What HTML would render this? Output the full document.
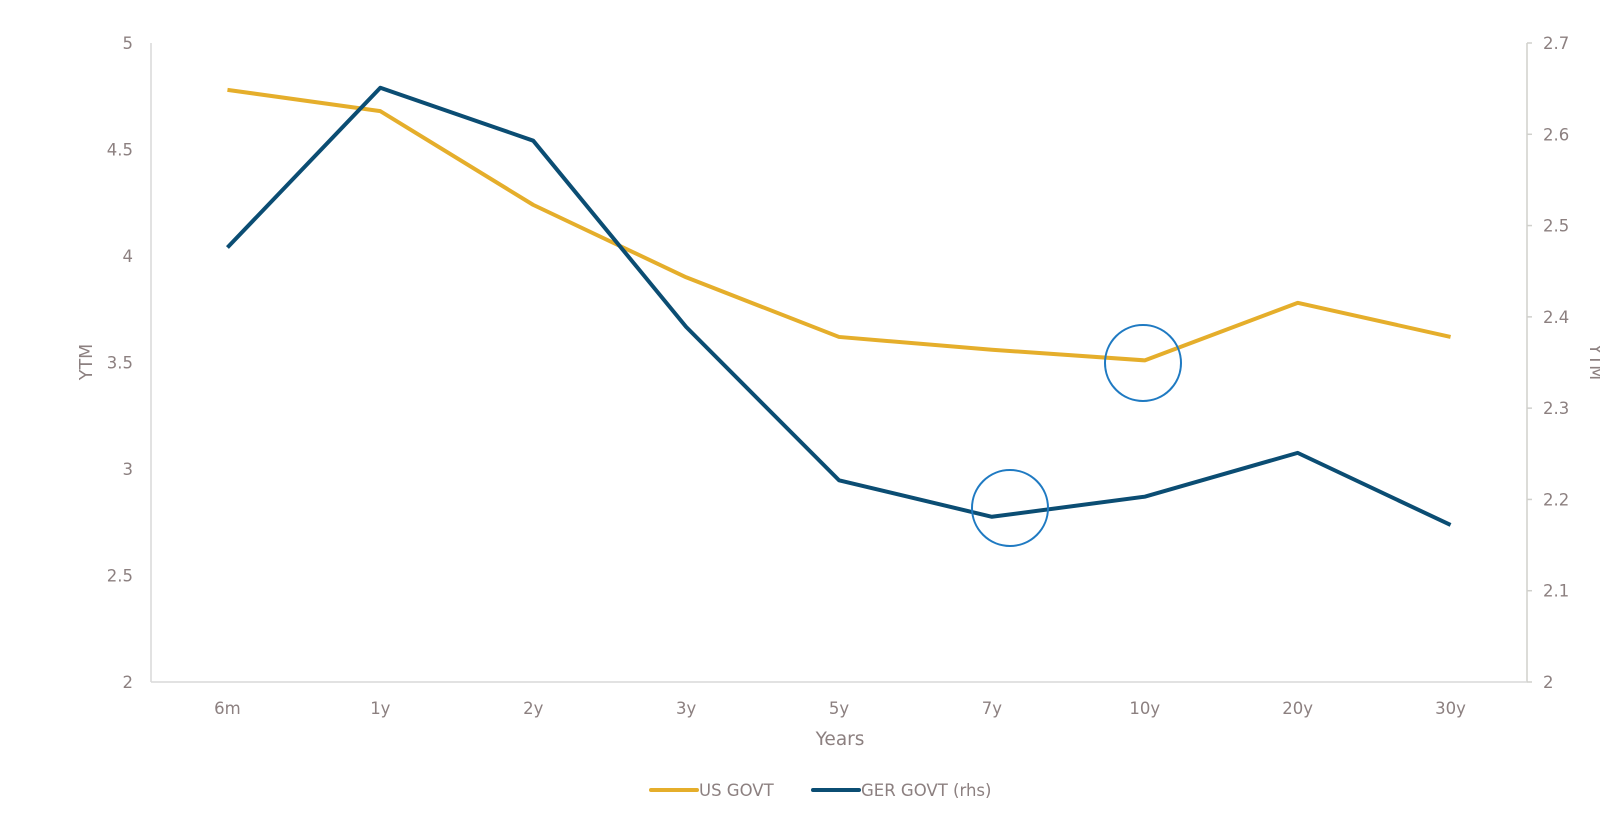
<!DOCTYPE html>
<html><head><meta charset="utf-8"><style>
body{margin:0;background:#fff;}
svg text{font-family:"DejaVu Sans","Liberation Sans",sans-serif;fill:#8c8080;}
</style></head><body>
<svg id="chart" width="1600" height="827" xmlns="http://www.w3.org/2000/svg"></svg>
<script>
const categories=["6m","1y","2y","3y","5y","7y","10y","20y","30y"];
const usValues=[4.78,4.68,4.24,3.90,3.62,3.56,3.51,3.78,3.62];
const gerValues=[2.476,2.651,2.593,2.389,2.221,2.181,2.203,2.251,2.172];
const leftTicks=[2,2.5,3,3.5,4,4.5,5];
const rightTicks=[2,2.1,2.2,2.3,2.4,2.5,2.6,2.7];
const NS="http://www.w3.org/2000/svg";
const svg=document.getElementById('chart');
const X0=151,X1=1527,Y0=682,Y1=43;
const xs=i=>X0+(X1-X0)/categories.length*(i+0.5);
const yL=v=>Y0-(v-2)/3*(Y0-Y1);
const yR=v=>Y0-(v-2)/0.7*(Y0-Y1);
function mk(t,a,txt){const e=document.createElementNS(NS,t);for(const k in a)e.setAttribute(k,a[k]);if(txt!=null)e.textContent=txt;svg.appendChild(e);return e;}
let e;
e=mk('line',{x1:X0,y1:Y1,x2:X0,y2:Y0,stroke:'#d9d9d9','stroke-width':1.5});

e=mk('line',{x1:X1,y1:Y1,x2:X1,y2:Y0,stroke:'#d0d0cc','stroke-width':1.5});

e=mk('line',{x1:X0,y1:Y0,x2:X1,y2:Y0,stroke:'#d9d9d9','stroke-width':1.5});

leftTicks.forEach(v=>{e=mk('text',{x:133,y:yL(v)+6,'text-anchor':'end','font-size':16.5},String(v));
});
rightTicks.forEach(v=>{e=mk('line',{x1:X1,y1:yR(v),x2:X1+5,y2:yR(v),stroke:'#d0d0cc','stroke-width':1.5});
e=mk('text',{x:1543,y:yR(v)+6,'font-size':16.5},v.toFixed(1).replace(/\.0$/,''));
});
categories.forEach((c,i)=>{e=mk('text',{x:xs(i),y:714,'text-anchor':'middle','font-size':16.5},c);
});
e=mk('text',{x:840,y:745,'text-anchor':'middle','font-size':18.5},'Years');

e=mk('text',{x:0,y:0,'text-anchor':'middle','font-size':17.5,transform:'translate(92,362) rotate(-90)'},'YTM');

e=mk('text',{x:0,y:0,'text-anchor':'middle','font-size':17.5,transform:'translate(1590,362) rotate(90)'},'YTM');

e=mk('polyline',{points:usValues.map((v,i)=>xs(i)+','+yL(v)).join(' '),fill:'none',stroke:'#E5AE2B','stroke-width':4,'stroke-linejoin':'round'});

e=mk('polyline',{points:gerValues.map((v,i)=>xs(i)+','+yR(v)).join(' '),fill:'none',stroke:'#0B4D73','stroke-width':4,'stroke-linejoin':'round'});

e=mk('circle',{cx:1143,cy:363,r:38,fill:'none',stroke:'#1f7ac2','stroke-width':2});

e=mk('circle',{cx:1010,cy:508,r:38,fill:'none',stroke:'#1f7ac2','stroke-width':2});

e=mk('line',{x1:651,y1:790,x2:697,y2:790,stroke:'#E5AE2B','stroke-width':4,'stroke-linecap':'round'});

e=mk('text',{x:699,y:796,'font-size':16.5},'US GOVT');

e=mk('line',{x1:813,y1:790,x2:859,y2:790,stroke:'#0B4D73','stroke-width':4,'stroke-linecap':'round'});

e=mk('text',{x:861,y:796,'font-size':16.5},'GER GOVT (rhs)');

</script>
</body></html>
